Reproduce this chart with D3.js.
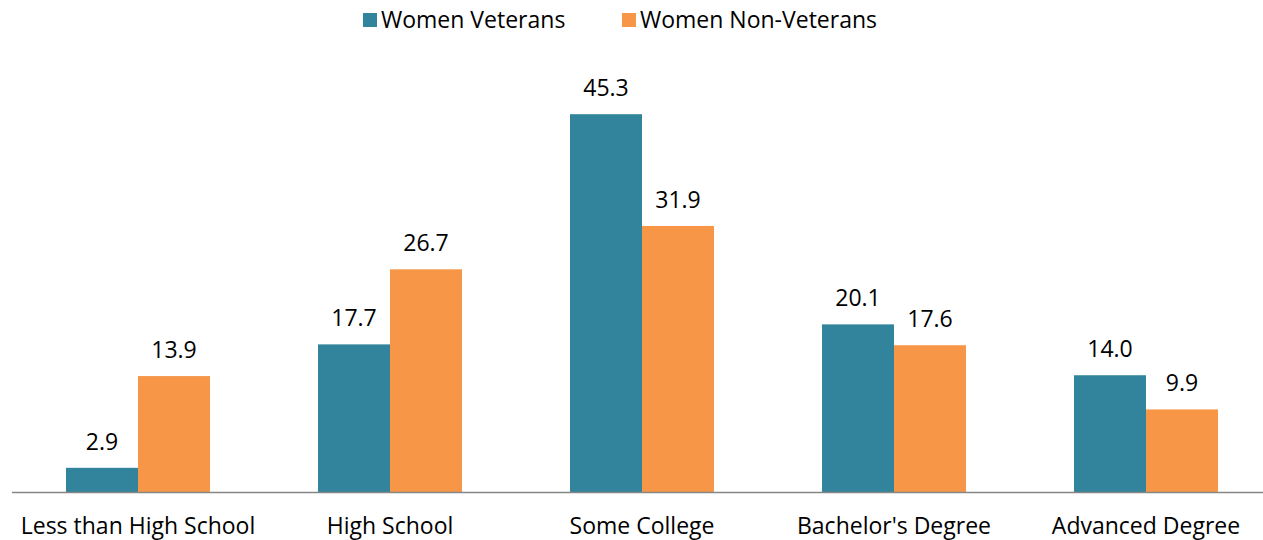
<!DOCTYPE html>
<html>
<head>
<meta charset="utf-8">
<script src="https://cdn.jsdelivr.net/npm/d3@7"></script>
<style>
  html, body { margin: 0; padding: 0; background: #fff; }
  svg { display: block; font-family: "Open Sans", sans-serif; }
</style>
</head>
<body>
<svg id="chart" width="1263" height="540"></svg>
<script>
const categories = ["Less than High School", "High School", "Some College", "Bachelor's Degree", "Advanced Degree"];
const seriesNames = ["Women Veterans", "Women Non-Veterans"];
const veterans = [2.9, 17.7, 45.3, 20.1, 14.0];
const nonVeterans = [13.9, 26.7, 31.9, 17.6, 9.9];
const colors = ["#31849B", "#F79646"];

const svg = d3.select("#chart");
const baseline = 492;

const x0 = d3.scaleBand().domain(categories).range([12, 1272]).paddingInner(0).paddingOuter(0);
const x1 = d3.scaleBand().domain(seriesNames).range([0, x0.bandwidth()]).paddingInner(0).paddingOuter(0.75);
const y = d3.scaleLinear().domain([0, 50]).range([baseline, 75]);
const color = d3.scaleOrdinal().domain(seriesNames).range(colors);

const rows = categories.map((c, i) => ({ cat: c, vals: [
  { s: seriesNames[0], v: veterans[i] },
  { s: seriesNames[1], v: nonVeterans[i] }
]}));

const groups = svg.append("g").selectAll("g").data(rows).join("g")
  .attr("transform", d => `translate(${x0(d.cat)},0)`);

groups.selectAll("rect").data(d => d.vals).join("rect")
  .attr("x", d => x1(d.s))
  .attr("width", x1.bandwidth())
  .attr("y", d => y(d.v))
  .attr("height", d => baseline - y(d.v))
  .attr("fill", d => color(d.s));

groups.selectAll("text.val").data(d => d.vals).join("text")
  .attr("class", "val")
  .attr("x", d => x1(d.s) + x1.bandwidth() / 2)
  .attr("y", d => y(d.v) - 18)
  .attr("text-anchor", "middle")
  .attr("font-size", 23)
  .attr("fill", "#000")
  .text(d => d.v.toFixed(1));

// x axis
const xAxis = d3.axisBottom(x0).tickSize(0).tickPadding(26);
const ax = svg.append("g").attr("transform", `translate(0,${baseline})`).call(xAxis);
ax.select(".domain").remove();
ax.selectAll("text").attr("font-size", 23).attr("font-family", "Open Sans, sans-serif").attr("fill", "#000");
svg.append("line").attr("x1", 12).attr("x2", 1263).attr("y1", baseline + 0.5).attr("y2", baseline + 0.5)
  .attr("stroke", "#868686").attr("stroke-width", 1.5);

// legend
const legendX = [363, 622];
const lg = svg.append("g").selectAll("g").data(seriesNames).join("g")
  .attr("transform", (d, i) => `translate(${legendX[i]},13)`);
lg.append("rect").attr("width", 14).attr("height", 14).attr("fill", d => color(d));
lg.append("text").attr("x", 18).attr("y", 15).attr("font-size", 23).attr("fill", "#000").text(d => d);
</script>
</body>
</html>
